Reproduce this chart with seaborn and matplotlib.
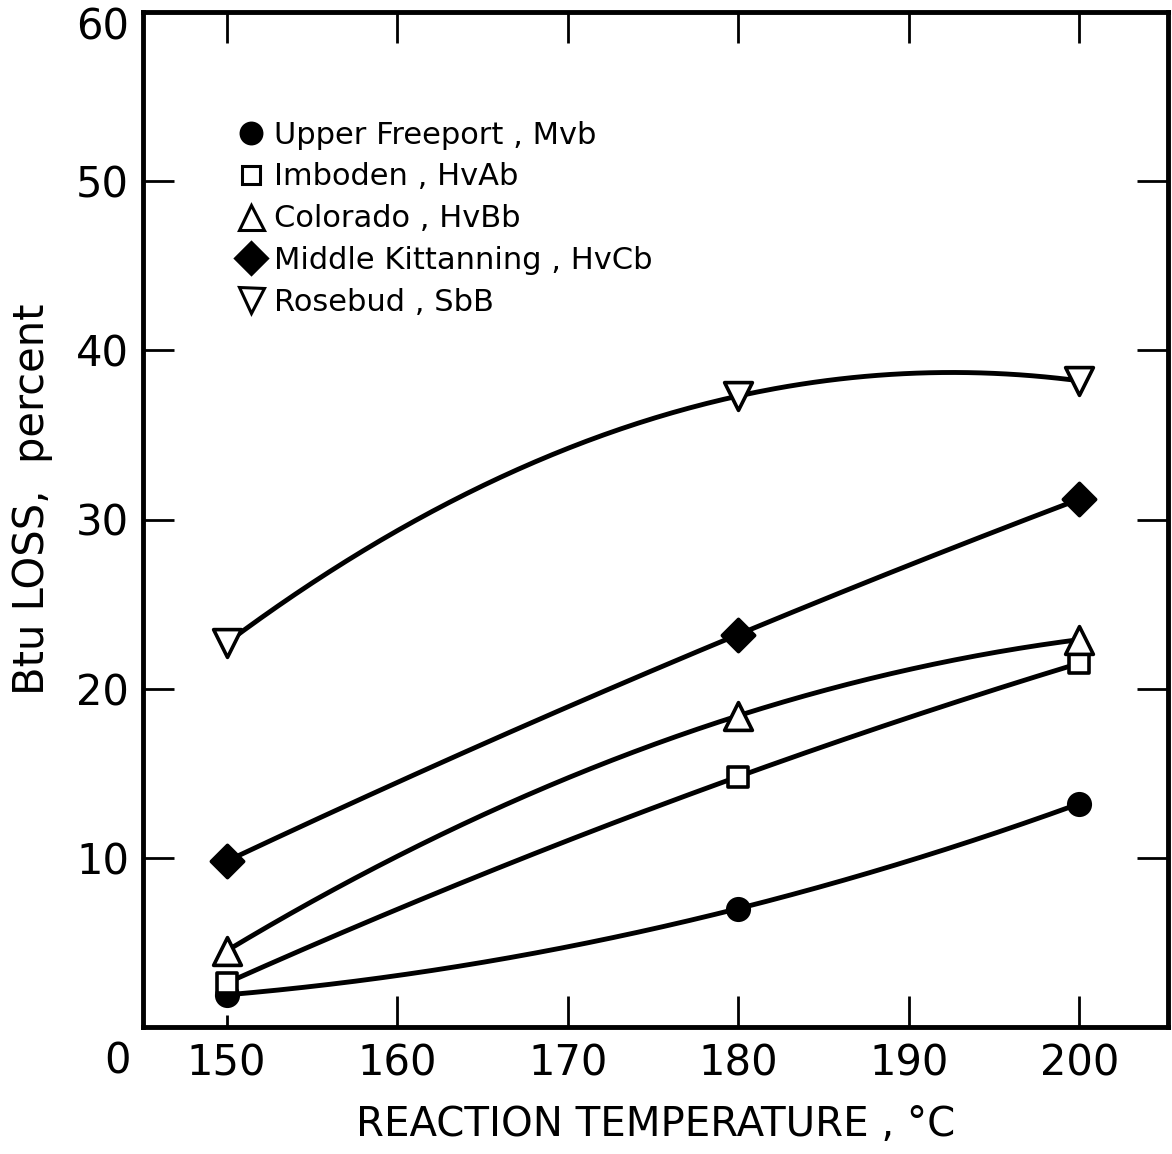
import numpy as np
import pandas as pd
import matplotlib
matplotlib.use("Agg")
import matplotlib.pyplot as plt
import seaborn as sns
from matplotlib.lines import Line2D
from matplotlib.transforms import ScaledTranslation

# ---- data ----
temperature = [150, 180, 200]
upper_freeport = [1.9, 7.0, 13.2]
imboden = [2.6, 14.8, 21.5]
colorado = [4.5, 18.4, 22.9]
middle_kittanning = [9.8, 23.2, 31.2]
rosebud = [22.7, 37.3, 38.2]

series_names = ["Upper Freeport , Mvb", "Imboden , HvAb", "Colorado , HvBb",
                "Middle Kittanning , HvCb", "Rosebud , SbB"]
x_ticks = [150, 160, 170, 180, 190, 200]
y_ticks = [10, 20, 30, 40, 50, 60]

sns.set_theme(style="ticks")
plt.rcParams['font.family'] = ['DejaVu Sans']
plt.rcParams['text.color'] = 'black'
plt.rcParams['axes.labelcolor'] = 'black'
plt.rcParams['xtick.color'] = 'black'
plt.rcParams['ytick.color'] = 'black'

fig = plt.figure(figsize=(11.72, 11.54), dpi=100)
ax = fig.add_axes([143/1172, 1 - 1027/1154, (1168-143)/1172, (1027-12)/1154])

values = [upper_freeport, imboden, colorado, middle_kittanning, rosebud]
markers = ["o", "s", "^", "D", "v"]
filled = [True, False, False, True, False]
sizes = [240, 190, 400, 270, 400]

# smooth curves: quadratic through the three measured points
rows = []
xs = np.linspace(min(temperature), max(temperature), 200)
for name, vals in zip(series_names, values):
    coef = np.polyfit(temperature, vals, 2)
    for xv in xs:
        rows.append({"T": xv, "loss": np.polyval(coef, xv), "series": name})
curves = pd.DataFrame(rows)
sns.lineplot(data=curves, x="T", y="loss", units="series", estimator=None,
             color="black", linewidth=3.5, ax=ax, legend=False, zorder=2)

for name, vals, m, f, s in zip(series_names, values, markers, filled, sizes):
    pts = pd.DataFrame({"T": temperature, "loss": vals})
    sns.scatterplot(data=pts, x="T", y="loss", marker=m, s=s,
                    facecolor="black" if f else "white", edgecolor="black",
                    linewidth=2.6, ax=ax, zorder=3, legend=False)

ax.set_xlim(145.1, 205.2)
ax.set_ylim(0, 60)
ax.set_xticks(x_ticks)
ax.set_yticks(y_ticks)
ax.set_xticklabels([str(v) for v in x_ticks])
ax.set_yticklabels([str(v) for v in y_ticks])
ax.tick_params(direction="in", length=22, width=2, top=True, right=True,
               labelsize=30, colors="black")
ax.tick_params(axis="x", pad=11)
ax.tick_params(axis="y", pad=10)
for sp in ax.spines.values():
    sp.set_linewidth(3.5)
    sp.set_color("black")
ax.xaxis.get_major_ticks()[0].tick1line.set_markersize(9)
# top label "60" sits a little below the corner in the reference
lab60 = ax.get_yticklabels()[-1]
lab60.set_transform(lab60.get_transform() + ScaledTranslation(0, -8/72, fig.dpi_scale_trans))

ax.text(-0.025, -0.013, "0", transform=ax.transAxes, ha="center", va="top",
        fontsize=30)

ax.set_xlabel("REACTION TEMPERATURE , °C", fontsize=29, labelpad=15)
ax.set_ylabel("Btu LOSS,  percent", fontsize=30)
ax.yaxis.set_label_coords(-0.088, 0.52)

handles = [Line2D([], [], linestyle="none", marker=m, markersize=ms,
                  markerfacecolor="black" if f else "white",
                  markeredgecolor="black", markeredgewidth=2.2)
           for m, f, ms in zip(markers, filled, [15, 13, 18, 16, 18])]
ax.legend(handles, series_names, loc="upper left", bbox_to_anchor=(0.082, 0.905),
          frameon=False, fontsize=22, handlelength=0.8, handletextpad=0.35,
          labelspacing=0.42, borderaxespad=0)

ax.set_facecolor("white")
fig.patch.set_facecolor("white")
fig.savefig("out.png", dpi=100)
